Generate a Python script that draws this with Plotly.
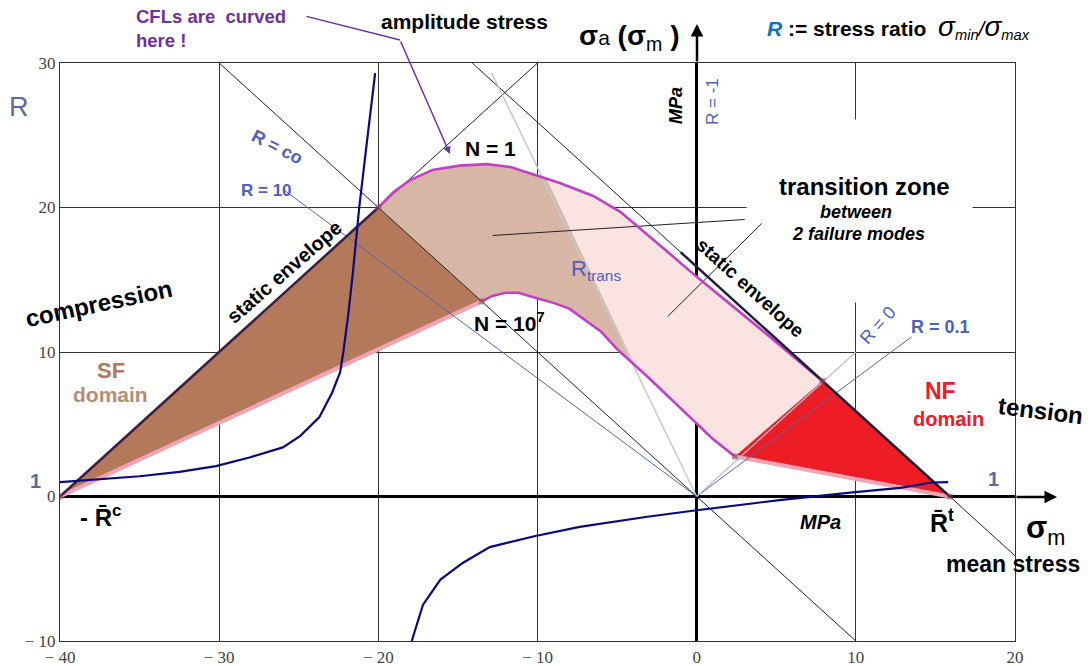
import numpy as np
import plotly.graph_objects as go

# strengths on the mean stress axis (MPa)
Rc = 40.0
Rt = 15.9

# N = 1 curve
n1_sm = [-20.0, -19.0, -18.0, -16.6, -14.9, -13.2, -11.7, -10.3, -8.6, -6.5, -4.8, -2.0, 0.0, 4.0, 7.9]
n1_sa = [20.0, 21.1, 21.9, 22.6, 22.9, 23.0, 22.8, 22.3, 21.7, 20.8, 19.7, 17.1, 15.2, 11.6, 8.0]

# N = 10^7 curve
n7_sm = [-13.5, -12.8, -12.0, -11.2, -10.3, -9.0, -8.0, -7.0, -6.0, -5.0, -3.0, -1.0, 1.0, 2.4]
n7_sa = [13.5, 13.9, 14.1, 14.1, 13.8, 13.4, 13.0, 12.2, 11.4, 10.2, 8.2, 6.1, 4.0, 2.77]

# stress ratio R plotted against mean stress (two branches)
rl_sm = [-40.0, -37.5, -35.0, -32.5, -30.2, -28.1, -26.0, -24.9, -23.7, -22.9, -22.4, -22.2, -21.9, -21.6, -21.2, -20.7, -20.2]
rl_r = [1.0, 1.2, 1.4, 1.7, 2.1, 2.7, 3.4, 4.2, 5.5, 7.2, 8.6, 10.0, 12.5, 15.5, 20.0, 24.7, 29.3]
rr_sm = [-17.9, -17.2, -16.1, -14.7, -13.0, -10.2, -7.35, -3.1, 0.0, 5.2, 9.8, 12.8, 14.8, 15.8]
rr_r = [-10.0, -7.5, -5.75, -4.6, -3.5, -2.75, -2.1, -1.4, -0.95, -0.25, 0.28, 0.6, 0.97, 1.0]

# slopes sigma_a / sigma_m of the constant-R rays
slope_trans = -2.33
slope_r10 = (1 - 10) / (1 + 10)
slope_r01 = (1 - 0.1) / (1 + 0.1)

xticks = [-40, -30, -20, -10, 0, 10, 20]
xlabels = ["\u2212 40", "\u2212 30", "\u2212 20", "\u2212 10", "0", "10", "20"]
yticks = [-10, 0, 10, 20, 30]
ylabels = ["\u2212 10", "0", "10", "20", "30"]

FONT = "Liberation Sans, Arial, sans-serif"
BLUE = "#4f5fbf"


# picture position -> data / paper position (for labels and pointers)
def px(x):
    return (x - 697) / 15.917


def py(y):
    return (497 - y) / 14.45


def pxp(x):
    return (x - 60) / 955


def pyp(y):
    return (641 - y) / 578


def crossing(xs, ys, slope):
    # point where the curve meets the ray sa = slope * sm
    xx = np.linspace(xs[0], xs[-1], 4000)
    yy = np.interp(xx, xs, ys)
    i = np.argmin(np.abs(yy - slope * xx))
    return xx[i], yy[i]


ax_, ay_ = crossing(n1_sm, n1_sa, slope_trans)
bx_, by_ = crossing(n7_sm, n7_sa, slope_trans)

fig = go.Figure()


def poly(xs, ys, color):
    fig.add_trace(go.Scatter(x=xs, y=ys, fill="toself", fillcolor=color, mode="lines",
                             line=dict(width=0), hoverinfo="skip", showlegend=False))


def line(xs, ys, color, width=1, dash=None):
    fig.add_trace(go.Scatter(x=xs, y=ys, mode="lines", line=dict(color=color, width=width, dash=dash),
                             hoverinfo="skip", showlegend=False))


# whole band between the two curves (light pink)
poly(n1_sm + n7_sm[::-1], n1_sa + n7_sa[::-1], "#fbe3e1")
# transition part left of R_trans (tan)
k1 = [i for i, v in enumerate(n1_sm) if v < ax_]
k7 = [i for i, v in enumerate(n7_sm) if v < bx_]
poly([n1_sm[i] for i in k1] + [ax_, bx_] + [n7_sm[i] for i in k7][::-1],
     [n1_sa[i] for i in k1] + [ay_, by_] + [n7_sa[i] for i in k7][::-1], "#d8b6a6")
# SF domain
poly([-Rc, n1_sm[0], n7_sm[0]], [0, n1_sa[0], n7_sa[0]], "#b4785a")
# NF domain
poly([n7_sm[-1], n1_sm[-1], Rt], [n7_sa[-1], n1_sa[-1], 0], "#ee1c25")

# pink lower edges
line([-Rc, n7_sm[0]], [0, n7_sa[0]], "#f4a3b3", 4)
line([n7_sm[-1], Rt], [n7_sa[-1], 0], "#f4a3b3", 4)

# thin construction lines
line([-30, 10], [30, -10], "#222222", 1)                       # R = co
line([-Rc, 30 - Rc], [0, 30], "#222222", 1)                    # static envelope (compression)
line([Rt - 30, 20], [30, Rt - 20], "#222222", 1)               # static envelope (tension)
line([30 / slope_trans, 0], [30 * 0.977, 0], "#c9c9c9", 1.5)   # R_trans
line([-26, 0], [-26 * slope_r10, 0], "#5566aa", 1)              # R = 10
line([0, 13.5], [0, 13.5 * slope_r01], "#5566aa", 1)           # R = 0.1
line([0, 10], [0, 10], "#b9bfd6", 1.3)                          # R = 0
# pointers from the "transition zone" text
line([px(745), px(493)], [py(220), py(236)], "#222222", 1)
line([px(762), px(668)], [py(224), py(317)], "#222222", 1)

# cycle curves
line(n1_sm, n1_sa, "#c23fc8", 2.6)
line(n7_sm, n7_sa, "#c23fc8", 2.6)

# thick parts of the static envelope
line([-Rc, n1_sm[0]], [0, n1_sa[0]], "#3b1f3f", 2.5)
line([-1.0, Rt], [Rt + 1.0, 0], "#1f1f3a", 2.5)

# stress ratio curve
line(rl_sm, rl_r, "#0a0a80", 2.2)
line(rr_sm, rr_r, "#0a0a80", 2.2)

# vertex marks
fig.add_trace(go.Scatter(
    x=[-Rc, n1_sm[0], n7_sm[0], n7_sm[-1], n1_sm[-1], Rt],
    y=[0, n1_sa[0], n7_sa[0], n7_sa[-1], n1_sa[-1], 0],
    mode="markers", marker=dict(symbol="square", size=6, color="rgba(150,70,90,0.55)"),
    hoverinfo="skip", showlegend=False))

ann = []


def label(text, x, y, size=15, color="black", angle=0, xanchor="center", align="center"):
    ann.append(dict(text=text, x=pxp(x), y=pyp(y), xref="paper", yref="paper", showarrow=False,
                    font=dict(family=FONT, size=size, color=color), textangle=angle,
                    xanchor=xanchor, yanchor="middle", align=align))


def arrow(x0, y0, x1, y1, color, width, head):
    ann.append(dict(text="", x=pxp(x1), y=pyp(y1), ax=x0 - x1, ay=y0 - y1, xref="paper", yref="paper",
                    axref="pixel", ayref="pixel", showarrow=True, arrowhead=head, arrowsize=1,
                    arrowwidth=width, arrowcolor=color, standoff=0, startstandoff=0))


# axis arrows
arrow(697, 63, 697, 24, "black", 2.5, 2)
arrow(1015, 497, 1057, 497, "black", 2.5, 2)
# CFL pointer
arrow(305, 16, 400, 40, "#7030a0", 1.5, 0)
arrow(400, 40, 450, 154, "#7030a0", 1.5, 2)

label("<b>CFLs are  curved<br>here !</b>", 134, 29, 18.5, "#7030a0", xanchor="left", align="left")
label("<b>amplitude stress</b>", 464, 21, 21)
label("<b>\u03c3</b><span style='font-size:21px'>a</span><b> (\u03c3</b><sub>m</sub><b> )</b>", 629, 38, 28)
label("<b><i><span style='color:#1070c0'>R</span></i> := stress ratio</b>  "
      "<i><span style='font-size:28px'>\u03c3</span><sub>min</sub>/"
      "<span style='font-size:28px'>\u03c3</span><sub>max</sub></i>", 765, 27, 21, xanchor="left")
label("R", 19, 107, 27, "#5b6aa0")
label("<b><i>MPa</i></b>", 676, 106, 18, angle=-90)
label("R = -1", 712, 102, 17, BLUE, angle=-90)
label("<b>R = co</b>", 277, 147, 18, BLUE, angle=27)
label("<b>R = 10</b>", 266, 190, 17, BLUE)
label("<b>N = 1</b>", 490, 148, 21)
label("<b>N = 10<sup>7</sup></b>", 509, 322, 21)
label("<b>transition zone</b>", 864, 186, 24)
label("<b><i>between</i></b>", 856, 212, 18)
label("<b><i>2 failure modes</i></b>", 858, 234, 18)
label("R<sub>trans</sub>", 596, 270, 22, BLUE)
label("<b>static envelope</b>", 284, 272, 20, angle=-41)
label("<b>static envelope</b>", 750, 287, 19, angle=42)
label("<b>compression</b>", 98, 303, 24, angle=-12)
label("<b>SF</b>", 111, 370, 22, "#b4785a")
label("<b>domain</b>", 110, 394, 21, "#b98d75")
label("<b>NF</b>", 940, 391, 23, "#e8202a")
label("<b>domain</b>", 948, 419, 20, "#e8202a")
label("<b>tension</b>", 1040, 410, 24, angle=7)
label("<b>1</b>", 35, 481, 20, "#5b6aa0")
label("<b>1</b>", 993, 479, 20, "#5b6aa0")
label("<b>- R\u0304</b><sup><b>c</b></sup>", 100, 516, 24)
label("<b><i>MPa</i></b>", 820, 522, 20)
label("<b>R\u0304</b><sup><b>t</b></sup>", 942, 521, 25)
label("<b>\u03c3</b><sub>m</sub>", 1045, 530, 31)
label("<b>mean stress</b>", 1013, 564, 23)
label("R = 0", 878, 325, 18, BLUE, angle=-48)
label("<b>R = 0.1</b>", 940, 327, 18, BLUE)

fig.update_layout(
    width=1091, height=666,
    margin=dict(l=60, r=76, t=63, b=25, autoexpand=False),
    plot_bgcolor="white", paper_bgcolor="white",
    annotations=ann,
    shapes=[dict(type="rect", xref="x", yref="y", x0=px(747), x1=px(973), y0=py(303), y1=py(120),
                 fillcolor="white", line=dict(width=0), layer="between")],
)
axis_style = dict(showgrid=True, gridcolor="#333333", gridwidth=1.3, zeroline=True,
                  zerolinecolor="black", zerolinewidth=2.5, showline=True, linecolor="#333333",
                  linewidth=1.3, mirror=True, ticks="", automargin=False,
                  tickfont=dict(family="Liberation Serif, Times New Roman, serif", size=17, color="#444444"))
fig.update_xaxes(range=[-40, 20], tickvals=xticks, ticktext=xlabels, **axis_style)
fig.update_yaxes(range=[-10, 30], tickvals=yticks, ticktext=ylabels, **axis_style)

fig.write_html("out.html", config={"displayModeBar": False},
               post_script="document.body.style.margin='0';")
